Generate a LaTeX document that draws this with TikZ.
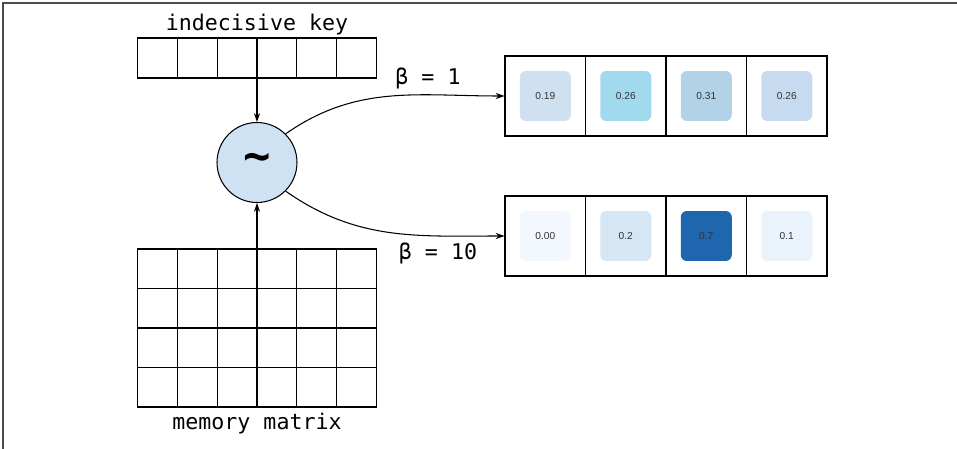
\documentclass[tikz,border=0pt]{standalone}
\usepackage{fontspec}
\setmonofont{DejaVu Sans Mono}
\setsansfont{Liberation Sans}
\usetikzlibrary{arrows.meta}
\definecolor{simblue}{HTML}{CFE2F3}
\definecolor{wA}{HTML}{CFE0F1}
\definecolor{wB}{HTML}{A1D9EE}
\definecolor{wC}{HTML}{B4D2E7}
\definecolor{wD}{HTML}{C6DBEF}
\definecolor{wE}{HTML}{F3F8FE}
\definecolor{wF}{HTML}{D6E6F5}
\definecolor{wG}{HTML}{1E66AE}
\definecolor{wH}{HTML}{EAF2FB}
\tikzset{
  slot/.style={draw, line width=0.6pt, minimum width=0.795cm, minimum height=0.79cm, inner sep=0pt},
  wcell/.style={draw, line width=0.6pt, minimum width=1.61cm, minimum height=1.6cm, inner sep=0pt},
  weight/.style={rounded corners=0.12cm, minimum width=1.02cm, minimum height=1.0cm, inner sep=0pt,
    font=\sffamily\fontsize{5.8}{6}\selectfont, text=black!80},
  tag/.style={font=\ttfamily\fontsize{12.3}{14}\selectfont},
  simnode/.style={circle, draw, line width=0.6pt, fill=simblue, minimum size=1.6cm, inner sep=0pt,
    font=\ttfamily\bfseries\fontsize{26}{26}\selectfont},
  feed/.style={-{Stealth[length=5pt,width=3.5pt]}, line width=0.6pt}
}
\begin{document}
\begin{tikzpicture}[x=0.02cm, y=-0.02cm]
  \useasboundingbox (0,0) rectangle (957,449);
  \draw[line width=1pt, black!70] (3,449) -- (3,3) -- (957,3);
  % key and memory
  \foreach \i in {1,...,6} {
    \node[slot, minimum height=0.8cm] (k\i) at ({138+39.67*(\i-0.5)},58) {};
    \foreach \j in {1,...,4}
      \node[slot] (m\j\i) at ({138+39.67*(\i-0.5)},{249+39.5*(\j-0.5)}) {};
  }
  \node[tag] (keylabel) at (257,25) {indecisive key};
  \node[tag] (memlabel) at (257,424) {memory matrix};
  \coordinate (keyout) at (257,78);
  \coordinate (memout) at (257,249);
  % similarity
  \node[simnode] (sim) at (257,162.5) {\char`\~};
  \draw[feed] (keyout) -- (sim.north);
  \draw[feed] (memout) -- (sim.south);
  % weightings
  \foreach \v/\c [count=\i] in {0.19/wA, 0.26/wB, 0.31/wC, 0.26/wD} {
    \node[wcell] (a\i) at ({505+80.5*(\i-0.5)},96) {};
    \node[weight, fill=\c] (wa\i) at (a\i) {\v};
  }
  \foreach \v/\c [count=\i] in {0.00/wE, 0.2/wF, 0.7/wG, 0.1/wH} {
    \node[wcell] (b\i) at ({505+80.5*(\i-0.5)},236) {};
    \node[weight, fill=\c] (wb\i) at (b\i) {\v};
  }
  \draw[feed] (sim.45) to[out=35, in=180] (a1.west);
  \draw[feed] (sim.-45) to[out=-35, in=180] (b1.west);
  \node[tag] (beta1) at (428,78) {β = 1};
  \node[tag] (beta10) at (438,253) {β = 10};
\end{tikzpicture}
\end{document}
